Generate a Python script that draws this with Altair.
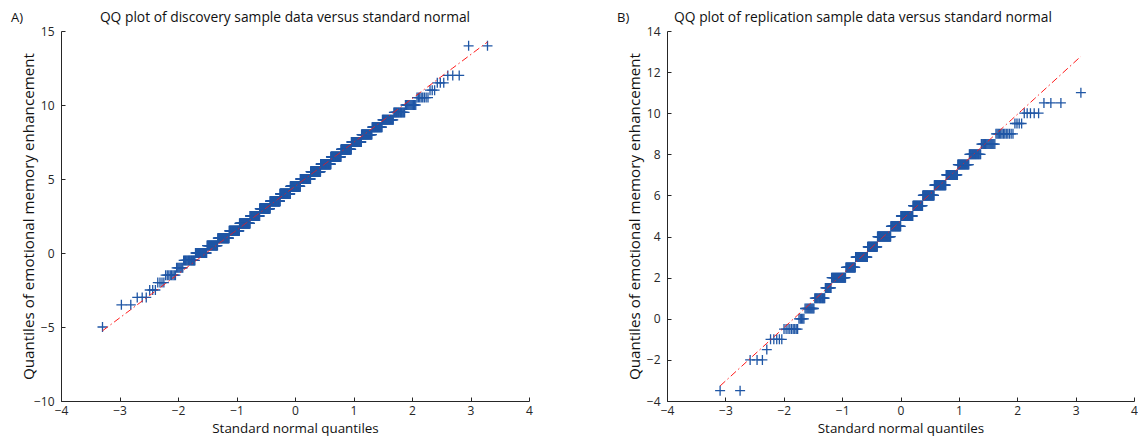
import altair as alt
import pandas as pd

# ---- data (sample values are on a 0.5 grid) ----
disc_levels = [-5.0, -4.5, -4.0, -3.5, -3.0, -2.5, -2.0, -1.5, -1.0, -0.5,
               0.0, 0.5, 1.0, 1.5, 2.0, 2.5, 3.0, 3.5, 4.0, 4.5,
               5.0, 5.5, 6.0, 6.5, 7.0, 7.5, 8.0, 8.5, 9.0, 9.5,
               10.0, 10.5, 11.0, 11.5, 12.0, 12.5, 13.0, 13.5, 14.0]
disc_counts = [1, 0, 0, 2, 3, 3, 4, 8, 7, 16,
               22, 27, 37, 41, 50, 52, 62, 64, 69, 68,
               69, 64, 61, 54, 48, 40, 34, 26, 22, 16,
               11, 8, 3, 3, 3, 0, 0, 0, 2]

rep_levels = [-3.5, -3.0, -2.5, -2.0, -1.5, -1.0, -0.5, 0.0, 0.5, 1.0,
              1.5, 2.0, 2.5, 3.0, 3.5, 4.0, 4.5, 5.0, 5.5, 6.0,
              6.5, 7.0, 7.5, 8.0, 8.5, 9.0, 9.5, 10.0, 10.5, 11.0]
rep_counts = [2, 0, 0, 3, 1, 5, 9, 5, 10, 14,
              10, 28, 23, 33, 30, 44, 34, 41, 32, 35,
              32, 27, 22, 18, 16, 13, 4, 5, 3, 1]

x_ticks = [-4, -3, -2, -1, 0, 1, 2, 3, 4]
disc_y_ticks = [-10, -5, 0, 5, 10, 15]
rep_y_ticks = [-4, -2, 0, 2, 4, 6, 8, 10, 12, 14]

disc_title = "QQ plot of discovery sample data versus standard normal"
rep_title = "QQ plot of replication sample data versus standard normal"
x_title = "Standard normal quantiles"
y_title = "Quantiles of emotional memory enhancement"

BLUE = "#1f56a5"
RED = "#ff1a1a"
AX = "#262626"
FONT = "Open Sans"


def expand(levels, counts):
    vals = []
    for v, c in zip(levels, counts):
        vals += [v] * c
    return pd.DataFrame({"value": vals})


def panel(levels, counts, ydom, yticks, tag, title, w, h, title_cx):
    df = expand(levels, counts)
    base = (
        alt.Chart(df)
        .transform_window(rank="row_number()", sort=[alt.SortField("value", order="ascending")])
        .transform_joinaggregate(n="count()", q1="q1(value)", q3="q3(value)")
        .transform_calculate(
            xq="quantileNormal((datum.rank - 0.5) / datum.n)",
            yline="datum.q1 + (datum.q3 - datum.q1) * (datum.xq - quantileNormal(0.25))"
                  " / (quantileNormal(0.75) - quantileNormal(0.25))",
        )
    )
    xs = alt.Scale(domain=[-4, 4], nice=False, zero=False)
    ys = alt.Scale(domain=ydom, nice=False, zero=False)

    pts = base.mark_point(
        shape="M-1,0L1,0M0,-1L0,1", filled=False, size=100,
        strokeWidth=1.3, color=BLUE, opacity=1,
    ).encode(
        x=alt.X("xq:Q", scale=xs, axis=alt.Axis(
            orient="bottom", values=x_ticks, ticks=False, tickSize=0, grid=False,
            domainColor=AX, domainWidth=1, labelPadding=4, labelFlush=False,
            labelFont=FONT, labelFontSize=12, labelColor=AX, labelOverlap=False,
            title=x_title, titleFont=FONT, titleFontSize=13.4, titleFontWeight="normal",
            titleColor="#111111", titlePadding=5,
        )),
        y=alt.Y("value:Q", scale=ys, axis=alt.Axis(
            orient="left", values=yticks, ticks=False, tickSize=0, grid=False,
            domainColor=AX, domainWidth=1, labelPadding=7, labelFlush=False,
            labelFont=FONT, labelFontSize=12, labelColor=AX, labelOverlap=False,
            title=y_title, titleFont=FONT, titleFontSize=15.2, titleFontWeight="normal",
            titleColor="#111111", titleX=-28, titleY=h / 2, titleBaseline="alphabetic",
        )),
    )

    line = base.mark_line(
        color=RED, strokeWidth=1, strokeDash=[7, 3, 1.5, 3],
    ).encode(
        x=alt.X("xq:Q", scale=xs, axis=alt.Axis(
            orient="bottom", offset=-4, values=x_ticks, ticks=True, tickSize=4,
            tickColor=AX, domain=False, labels=False, grid=False, title="",
        )),
        y=alt.Y("yline:Q", scale=ys, axis=alt.Axis(
            orient="left", offset=-4, values=yticks, ticks=True, tickSize=4,
            tickColor=AX, domain=False, labels=False, grid=False, title="",
        )),
    )

    tag_layer = alt.Chart(pd.DataFrame({"t": [tag]})).mark_text(
        align="left", baseline="middle", font=FONT, fontSize=13, color="#111111",
    ).encode(text="t:N", x=alt.value(-50), y=alt.value(-13))

    title_layer = alt.Chart(pd.DataFrame({"t": [title]})).mark_text(
        align="center", baseline="middle", font=FONT, fontSize=13.8, color="#111111",
    ).encode(text="t:N", x=alt.value(title_cx), y=alt.value(-13))

    return (
        alt.layer(pts, line, tag_layer, title_layer)
        .resolve_axis(x="independent", y="independent")
        .properties(width=w, height=h)
    )


left = panel(disc_levels, disc_counts, [-10, 15], disc_y_ticks, "A)", disc_title, 468, 370, 224)
right = panel(rep_levels, rep_counts, [-4, 14], rep_y_ticks, "B)", rep_title, 467, 370, 196)

chart = (
    alt.hconcat(left, right, spacing=138, bounds="flush")
    .properties(padding={"left": 3, "top": 3, "right": 0, "bottom": 2})
    .configure_view(stroke=None)
)

chart.save("out.html", embed_options={"renderer": "svg", "actions": False})
